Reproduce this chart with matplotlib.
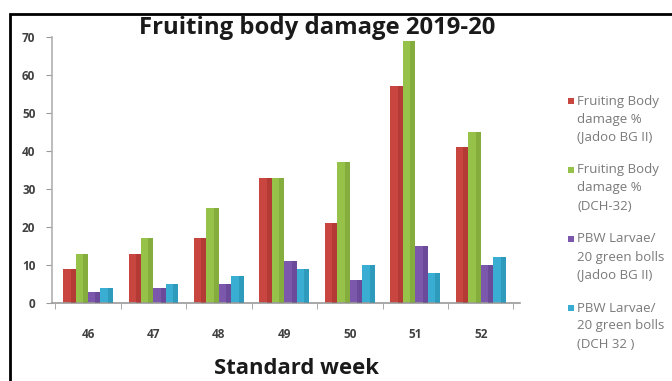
import matplotlib.pyplot as plt
from matplotlib.patches import Rectangle
import numpy as np

weeks = ["46", "47", "48", "49", "50", "51", "52"]
fb_jadoo = [9, 13, 17, 33, 21, 57, 41]
fb_dch = [13, 17, 25, 33, 37, 69, 45]
pbw_jadoo = [3, 4, 5, 11, 6, 15, 10]
pbw_dch = [4, 5, 7, 9, 10, 8, 12]

labels = ["Fruiting Body\ndamage %\n(Jadoo BG II)",
          "Fruiting Body\ndamage %\n(DCH-32)",
          "PBW Larvae/\n20 green bolls\n(Jadoo BG II)",
          "PBW Larvae/\n20 green bolls\n(DCH 32 )"]
colors = ["#c8463f", "#97c24a", "#7b58ab", "#3aaed2"]
side_colors = ["#9c2f2a", "#6f9531", "#573b85", "#2284a3"]

plt.rcParams['font.family'] = ['Open Sans', 'DejaVu Sans']

W, H = 672, 381
fig = plt.figure(figsize=(6.72, 3.81), dpi=100)
ax = fig.add_axes([52 / W, 78 / H, 468 / W, 266 / H])

x = np.arange(len(weeks))
w = 0.19
series = [fb_jadoo, fb_dch, pbw_jadoo, pbw_dch]
for i, vals in enumerate(series):
    pos = x + (i - 1.5) * w
    ax.bar(pos, vals, width=w, color=colors[i], edgecolor="none", zorder=2)
    # darker strip on the right to hint at the 3D shading
    ax.bar(pos + w * 0.3, vals, width=w * 0.4, color=side_colors[i],
           edgecolor="none", alpha=0.45, zorder=3)

ax.set_xlim(-0.55, 6.6)
ax.set_ylim(0, 70)
ax.set_yticks(range(0, 71, 10))
ax.set_xticks(x)
ax.set_xticklabels(weeks)
ax.set_xticks(np.arange(-0.5, 7, 1), minor=True)
ax.tick_params(axis="x", which="major", length=0, pad=18, labelsize=8.5, labelcolor="#404040")
ax.tick_params(axis="x", which="minor", length=4, color="#9a9a9a")
ax.tick_params(axis="y", length=4, color="#9a9a9a", pad=8, labelsize=8.5, labelcolor="#404040")
for t in ax.get_xticklabels() + ax.get_yticklabels():
    t.set_fontweight("bold")

for side in ["top", "right"]:
    ax.spines[side].set_visible(False)
ax.spines["left"].set_color("#b0b0b0")
ax.spines["bottom"].set_color("#9a9a9a")
ax.spines["left"].set_linewidth(1.2)
ax.spines["bottom"].set_linewidth(1.2)

fig.text(317 / W, 1 - 28 / H, "Fruiting body damage 2019-20", ha="center", va="center",
         fontsize=17.2, fontweight="bold", color="#1a1a1a")
fig.text(297 / W, 1 - 369 / H, "Standard week", ha="center", va="center",
         fontsize=15.8, fontweight="bold", color="#1a1a1a")

# legend drawn by hand so the square sits beside the first line
leg_x, leg_y0, entry_gap, line_gap = 577, 101, 69, 18
for i, lab in enumerate(labels):
    y0 = leg_y0 + i * entry_gap
    fig.patches.append(Rectangle(((leg_x - 9) / W, 1 - (y0 + 3) / H), 6 / W, 6 / H,
                                 transform=fig.transFigure, facecolor=colors[i],
                                 edgecolor="none"))
    for j, line in enumerate(lab.split("\n")):
        fig.text(leg_x / W, 1 - (y0 + j * line_gap) / H, line, ha="left", va="center",
                 fontsize=9.5, color="#7a7a7a")

# outer frame of the original figure
fig.patches.append(Rectangle((10 / W, -0.1), 1.1, 1 - 14 / H + 0.1,
                             transform=fig.transFigure, fill=False,
                             edgecolor="black", linewidth=2))

fig.savefig("out.png", dpi=100)
